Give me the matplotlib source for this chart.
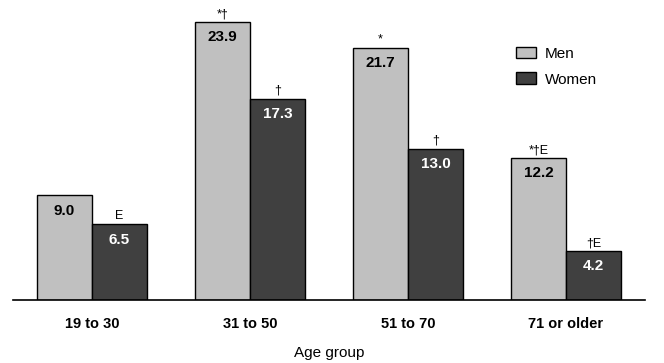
import numpy as np
import matplotlib.pyplot as plt

plt.rcParams['font.family'] = ['Liberation Sans', 'DejaVu Sans']

# data
age_groups = ["19 to 30", "31 to 50", "51 to 70", "71 or older"]
men = [9.0, 23.9, 21.7, 12.2]
women = [6.5, 17.3, 13.0, 4.2]
men_notes = ["", "*\u2020", "*", "*\u2020E"]
women_notes = ["E", "\u2020", "\u2020", "\u2020E"]

fig = plt.figure(figsize=(6.64, 3.63), dpi=100)
ax = fig.add_axes([13 / 664, 63 / 363, 632 / 664, 300 / 363])

x = np.arange(len(age_groups))
w = 0.348

b1 = ax.bar(x - w / 2, men, w, color="#c0c0c0", edgecolor="black", linewidth=1, label="Men")
b2 = ax.bar(x + w / 2, women, w, color="#404040", edgecolor="black", linewidth=1, label="Women")

for bars, vals, notes, tc in [(b1, men, men_notes, "black"), (b2, women, women_notes, "white")]:
    for bar, v, n in zip(bars, vals, notes):
        cx = bar.get_x() + bar.get_width() / 2
        ax.annotate(f"{v:.1f}", (cx, v), xytext=(0, -11), textcoords="offset points",
                    ha="center", va="center", fontsize=11, fontweight="bold", color=tc)
        if n:
            ax.annotate(n, (cx, v), xytext=(0, 1.5), textcoords="offset points",
                        ha="center", va="bottom", fontsize=9, color="black")

ax.set_xlim(-0.5, 3.5)
ax.set_ylim(0, 25.8)
ax.set_xticks(x)
ax.set_xticklabels(age_groups, fontweight="bold", fontsize=10.5)
ax.tick_params(axis="x", length=0, pad=12)
ax.set_yticks([])
for s in ["left", "right", "top"]:
    ax.spines[s].set_visible(False)
ax.spines["bottom"].set_linewidth(1.2)
ax.set_xlabel("Age group", fontsize=11, labelpad=11)

ax.legend(loc="upper left", bbox_to_anchor=(0.774, 0.89), frameon=False, fontsize=11,
          handlelength=1.3, handleheight=0.8, labelspacing=0.75, handletextpad=0.6)

fig.savefig("out.png", dpi=100)
